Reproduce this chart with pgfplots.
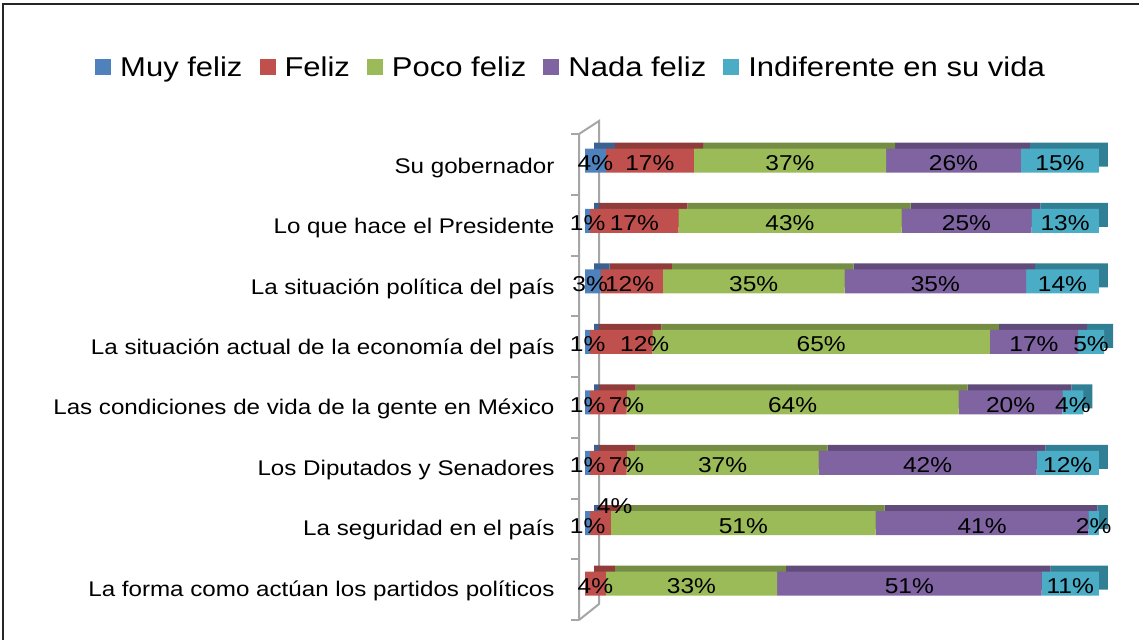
\documentclass[border=0pt]{standalone}
\usepackage{pgfplots}
\pgfplotsset{compat=1.18}
\usepackage{pgfplotstable}
\usepackage{fontspec}
\setmainfont{Liberation Sans}[FakeStretch=1.14]
\definecolor{cB}{HTML}{4F81BD}
\definecolor{cR}{HTML}{C0504D}
\definecolor{cG}{HTML}{9BBB59}
\definecolor{cP}{HTML}{8064A2}
\definecolor{cC}{HTML}{4BACC6}
\definecolor{dB}{HTML}{3B6190}
\definecolor{dR}{HTML}{903C3A}
\definecolor{dG}{HTML}{748C43}
\definecolor{dP}{HTML}{604B7A}
\definecolor{dC}{HTML}{317F94}
\definecolor{wall}{HTML}{A6A6A6}

\pgfplotstableread{
row mf f pf nf ind
1 4 17 37 26 15
2 1 17 43 25 13
3 3 12 35 35 14
4 1 12 65 17 5
5 1 7 64 20 4
6 1 7 37 42 12
7 1 4 51 41 2
8 0 4 33 51 11
}\datatable

\pgfplotsset{
  base/.style={scale only axis, width=519pt, height=483.6pt,
    xmin=0, xmax=100, ymin=0.5, ymax=8.5, y dir=reverse,
    axis line style={draw=none}, xtick=\empty, major tick length=0pt,
    tick style={draw=none}, clip=false},
  bars/.style={xbar stacked, bar width=24pt}
}

\begin{document}
\begin{tikzpicture}
\useasboundingbox (0pt,0pt) rectangle (1139pt,-640pt);
\draw[line width=2pt, black!85] (3pt,-640pt) -- (3pt,-4pt) -- (1139pt,-4pt);
% 3D wall
\draw[wall, line width=2pt] (579pt,-620pt) -- (579pt,-134pt) -- (599pt,-121pt) -- (599pt,-604pt) -- (579pt,-620pt);
\foreach \k in {0,...,8}{
  \pgfmathsetmacro\yy{-134-\k*60.75}
  \draw[wall, line width=2pt] (571pt,\yy pt) -- (579pt,\yy pt);
}
% back faces (3D depth)
\begin{axis}[base, bars, at={(594pt,-124.3pt)}, anchor=north west, ytick=\empty]
\addplot[fill=dB, draw=none] table[x=mf, y=row] {\datatable};
\addplot[fill=dR, draw=none] table[x=f, y=row] {\datatable};
\addplot[fill=dG, draw=none] table[x=pf, y=row] {\datatable};
\addplot[fill=dP, draw=none] table[x=nf, y=row] {\datatable};
\addplot[fill=dC, draw=none] table[x=ind, y=row] {\datatable};
\end{axis}
% front faces
\begin{axis}[base, bars, at={(585pt,-130.3pt)}, anchor=north west,
  ytick={1,...,8},
  yticklabels={Su gobernador, Lo que hace el Presidente, La situación política del país,
    La situación actual de la economía del país, Las condiciones de vida de la gente en México,
    Los Diputados y Senadores, La seguridad en el país, La forma como actúan los partidos políticos},
  yticklabel style={font=\fontsize{21.2}{24}\selectfont, anchor=east, xshift=-27pt, yshift=-7pt},
  legend columns=5,
  legend image code/.code={\fill[#1] (0pt,-8pt) rectangle (16pt,8pt);},
  legend style={at={(-0.0289,1.131)}, anchor=center, draw=none, fill=none,
    font=\fontsize{27.2}{30}\selectfont,
    nodes={inner xsep=0pt},
    /tikz/every even column/.append style={column sep=17pt},
    /tikz/every odd column/.append style={column sep=9pt}},
  legend entries={Muy feliz, Feliz, Poco feliz, Nada feliz, Indiferente en su vida}]
\addplot[fill=cB, draw=none] table[x=mf, y=row] {\datatable};
\addplot[fill=cR, draw=none] table[x=f, y=row] {\datatable};
\addplot[fill=cG, draw=none] table[x=pf, y=row] {\datatable};
\addplot[fill=cP, draw=none] table[x=nf, y=row] {\datatable};
\addplot[fill=cC, draw=none] table[x=ind, y=row] {\datatable};
\end{axis}
% data labels
\begin{axis}[base, at={(585pt,-130.3pt)}, anchor=north west, ytick=\empty]
\addplot[draw=none, mark=none, nodes near coords={\pgfplotspointmeta\%}, point meta=explicit symbolic,
  every node near coord/.append style={anchor=center, inner sep=0pt, text=black,
    font=\fontsize{21.5}{24}\selectfont}]
coordinates {
(2,1.04) [4] (12.5,1.04) [17] (39.5,1.04) [37] (71,1.04) [26] (91.5,1.04) [15]
(0.5,2.04) [1] (9.5,2.04) [17] (39.5,2.04) [43] (73.5,2.04) [25] (92.5,2.04) [13]
(1,3.04) [3] (8.6,3.04) [12] (32.5,3.04) [35] (67.5,3.04) [35] (92,3.04) [14]
(0.5,4.04) [1] (11.5,4.04) [12] (45.5,4.04) [65] (86.5,4.04) [17] (97.5,4.04) [5]
(0.5,5.04) [1] (8,5.04) [7] (40,5.04) [64] (82,5.04) [20] (94,5.04) [4]
(0.5,6.04) [1] (8,6.04) [7] (26.5,6.04) [37] (66,6.04) [42] (93,6.04) [12]
(0.5,7.04) [1] (5.7,6.72) [4] (30.5,7.04) [51] (76.5,7.04) [41] (98,7.04) [2]
(2,8.04) [4] (20.5,8.04) [33] (62.5,8.04) [51] (93.5,8.04) [11]
};
\end{axis}
\end{tikzpicture}
\end{document}
